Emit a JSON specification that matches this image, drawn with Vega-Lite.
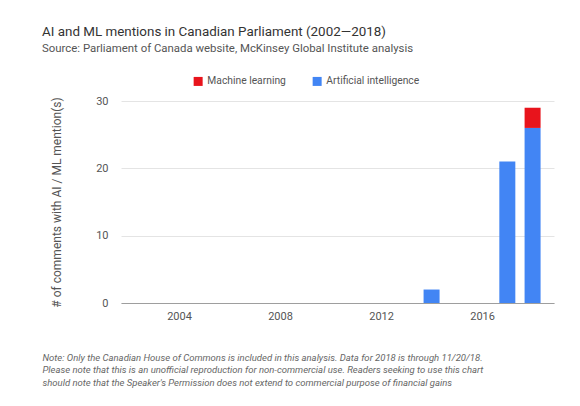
{
  "$schema": "https://vega.github.io/schema/vega-lite/v6.json",
  "autosize": {"type": "none"},
  "width": 433,
  "height": 202,
  "padding": {"left": 121, "top": 101, "right": 26, "bottom": 103},
  "background": "white",
  "title": {
    "text": "AI and ML mentions in Canadian Parliament (2002\u20142018)",
    "subtitle": "Source: Parliament of Canada website, McKinsey Global Institute analysis",
    "anchor": "start",
    "frame": "group",
    "dx": -79,
    "font": "Roboto",
    "fontSize": 13.4,
    "fontWeight": "normal",
    "color": "#333333",
    "subtitleFont": "Roboto",
    "subtitleFontSize": 11.4,
    "subtitleColor": "#555555",
    "subtitlePadding": 4,
    "offset": 22
  },
  "data": {
    "values": [
      {"year": 2002, "series": "Artificial intelligence", "count": 0},
      {"year": 2003, "series": "Artificial intelligence", "count": 0},
      {"year": 2004, "series": "Artificial intelligence", "count": 0},
      {"year": 2005, "series": "Artificial intelligence", "count": 0},
      {"year": 2006, "series": "Artificial intelligence", "count": 0},
      {"year": 2007, "series": "Artificial intelligence", "count": 0},
      {"year": 2008, "series": "Artificial intelligence", "count": 0},
      {"year": 2009, "series": "Artificial intelligence", "count": 0},
      {"year": 2010, "series": "Artificial intelligence", "count": 0},
      {"year": 2011, "series": "Artificial intelligence", "count": 0},
      {"year": 2012, "series": "Artificial intelligence", "count": 0},
      {"year": 2013, "series": "Artificial intelligence", "count": 0},
      {"year": 2014, "series": "Artificial intelligence", "count": 2},
      {"year": 2015, "series": "Artificial intelligence", "count": 0},
      {"year": 2016, "series": "Artificial intelligence", "count": 0},
      {"year": 2017, "series": "Artificial intelligence", "count": 21},
      {"year": 2018, "series": "Artificial intelligence", "count": 26},
      {"year": 2002, "series": "Machine learning", "count": 0},
      {"year": 2003, "series": "Machine learning", "count": 0},
      {"year": 2004, "series": "Machine learning", "count": 0},
      {"year": 2005, "series": "Machine learning", "count": 0},
      {"year": 2006, "series": "Machine learning", "count": 0},
      {"year": 2007, "series": "Machine learning", "count": 0},
      {"year": 2008, "series": "Machine learning", "count": 0},
      {"year": 2009, "series": "Machine learning", "count": 0},
      {"year": 2010, "series": "Machine learning", "count": 0},
      {"year": 2011, "series": "Machine learning", "count": 0},
      {"year": 2012, "series": "Machine learning", "count": 0},
      {"year": 2013, "series": "Machine learning", "count": 0},
      {"year": 2014, "series": "Machine learning", "count": 0},
      {"year": 2015, "series": "Machine learning", "count": 0},
      {"year": 2016, "series": "Machine learning", "count": 0},
      {"year": 2017, "series": "Machine learning", "count": 0},
      {"year": 2018, "series": "Machine learning", "count": 3}
    ]
  },
  "mark": {"type": "bar", "size": 16},
  "encoding": {
    "x": {
      "field": "year",
      "type": "quantitative",
      "scale": {"domain": [2001.9, 2018.65], "nice": false, "zero": false},
      "axis": {
        "values": [2004, 2008, 2012, 2016],
        "format": "d",
        "grid": false,
        "ticks": false,
        "domainColor": "#9e9e9e",
        "domainWidth": 1,
        "labelFont": "Roboto",
        "labelFontSize": 11,
        "labelColor": "#555555",
        "labelPadding": 7,
        "title": [
          "Note: Only the Canadian House of Commons is included in this analysis. Data for 2018 is through 11/20/18.",
          "Please note that this is an unofficial reproduction for non-commercial use. Readers seeking to use this chart",
          "should note that the Speaker's Permission does not extend to commercial purpose of financial gains"
        ],
        "titleFont": "Roboto",
        "titleFontSize": 9.5,
        "titleFontStyle": "italic",
        "titleFontWeight": "normal",
        "titleColor": "#666666",
        "titleAnchor": "start",
        "titleAlign": "left",
        "titleBaseline": "top",
        "titleLineHeight": 12.5,
        "titleX": -79,
        "titleY": 49
      }
    },
    "y": {
      "field": "count",
      "type": "quantitative",
      "stack": "zero",
      "scale": {"domain": [0, 30], "nice": false},
      "axis": {
        "values": [0, 10, 20, 30],
        "domain": false,
        "ticks": false,
        "gridColor": "#e4e4e4",
        "labelFont": "Roboto",
        "labelFontSize": 11,
        "labelColor": "#555555",
        "labelPadding": 13,
        "title": "# of comments with AI / ML mention(s)",
        "titleFont": "Roboto",
        "titleFontSize": 12,
        "titleFontWeight": "normal",
        "titleColor": "#555555",
        "titlePadding": 32
      }
    },
    "color": {
      "field": "series",
      "type": "nominal",
      "scale": {
        "domain": ["Machine learning", "Artificial intelligence"],
        "range": ["#e8141c", "#4285f4"]
      },
      "legend": {
        "title": null,
        "orient": "none",
        "direction": "horizontal",
        "legendX": 72,
        "legendY": -25,
        "symbolType": "square",
        "symbolSize": 81,
        "symbolStrokeWidth": 0,
        "labelFont": "Roboto",
        "labelFontSize": 10.3,
        "labelColor": "#555555",
        "labelOffset": 4,
        "columnPadding": 26
      }
    },
    "order": {"field": "series", "sort": "ascending"}
  },
  "config": {"view": {"stroke": null}}
}
